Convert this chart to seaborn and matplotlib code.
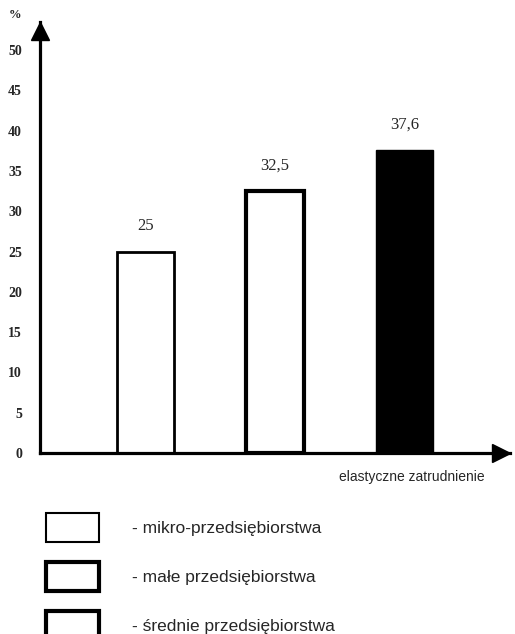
import numpy as np
import pandas as pd
import seaborn as sns
import matplotlib.pyplot as plt
from matplotlib.patches import Patch
from matplotlib.transforms import ScaledTranslation

# data
categories = ["mikro-przedsiębiorstwa", "małe przedsiębiorstwa", "średnie przedsiębiorstwa"]
values = [25, 32.5, 37.6]
value_labels = ["25", "32,5", "37,6"]
yticks = [0, 5, 10, 15, 20, 25, 30, 35, 40, 45, 50]
xlabel = "elastyczne zatrudnienie"

sns.set_style("white")
plt.rcParams['font.family'] = ['Liberation Serif', 'DejaVu Serif']
SANS = ['Liberation Sans', 'DejaVu Sans']

fig = plt.figure(figsize=(5.15, 6.34), dpi=100)
ax = fig.add_axes([0.0777, 0.2855, 0.9126, 0.6798])

df = pd.DataFrame({"typ": categories, "udzial": values})
sns.barplot(data=df, x="typ", y="udzial", hue="typ",
            palette=["white", "white", "black"], edgecolor="black",
            width=0.44, legend=False, ax=ax)
for p, lw in zip(ax.patches, [2.0, 3.0, 1.0]):
    p.set_linewidth(lw)

for cont, lab in zip(ax.containers, value_labels):
    ax.bar_label(cont, labels=[lab], padding=12.5, fontsize=12)

ax.set_xlim(-0.81, 2.81)
ax.set_ylim(0, 53.5)

# axes look like hand drawn arrows
for s in ["top", "right"]:
    ax.spines[s].set_visible(False)
for s in ["left", "bottom"]:
    ax.spines[s].set_color("black")
    ax.spines[s].set_linewidth(2.3)
ax.plot([0], [1], marker="^", markersize=13, color="black", clip_on=False,
        transform=ax.transAxes + ScaledTranslation(0, -6.5 / 72, fig.dpi_scale_trans))
ax.plot([1], [0], marker=">", markersize=13, color="black", clip_on=False,
        transform=ax.transAxes + ScaledTranslation(-6.5 / 72, 0, fig.dpi_scale_trans))

ax.set_yticks(yticks)
ax.set_yticklabels([str(t) for t in yticks], fontsize=10, fontweight="bold")
ax.tick_params(axis="y", length=0, pad=13)
ax.set_xticks([])

ax.set_ylabel("%", rotation=0, fontsize=9, fontweight="bold", ha="center", va="center")
ax.yaxis.set_label_coords(-0.053, 1.016)
ax.set_xlabel(xlabel, fontsize=10, family=SANS)
ax.xaxis.set_label_coords(0.791, -0.039)

handles = [Patch(facecolor="white", edgecolor="black", linewidth=1.5),
           Patch(facecolor="white", edgecolor="black", linewidth=3),
           Patch(facecolor="white", edgecolor="black", linewidth=3)]
fig.legend(handles, ["- " + c for c in categories], loc="upper left",
           bbox_to_anchor=(46 / 515, 1 - 513 / 634), frameon=False, borderpad=0,
           borderaxespad=0, handlelength=3.05, handleheight=2.19, handletextpad=1.9,
           labelspacing=1.16, prop=dict(family=SANS, size=12.5))

fig.savefig("out.png", dpi=100)
